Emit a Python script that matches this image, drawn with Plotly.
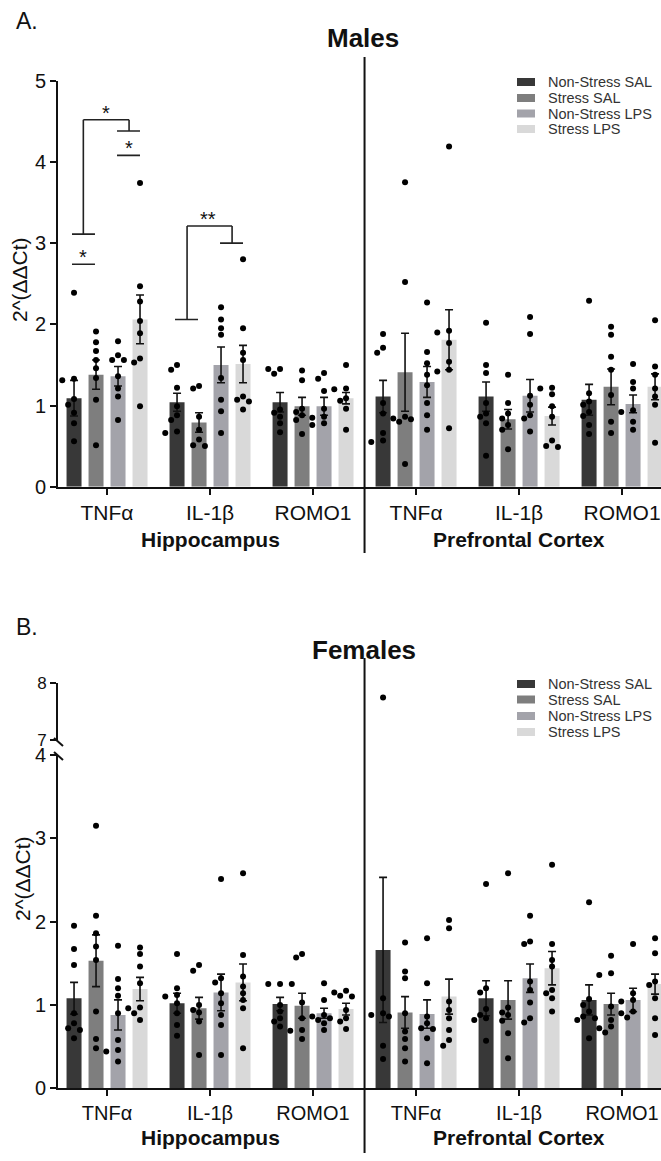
import plotly.graph_objects as go

W, H = 661, 1161

conditions = ["Non-Stress SAL", "Stress SAL", "Non-Stress LPS", "Stress LPS"]
colors = ["#383838", "#7e7e7e", "#a3a3aa", "#d9d9d9"]
genes = ["TNFα", "IL-1β", "ROMO1", "TNFα", "IL-1β", "ROMO1"]
regions = ["Hippocampus", "Prefrontal Cortex"]

# ---------------- Males: means and SEM (order: Hippo TNFa, IL1b, ROMO1, PFC TNFa, IL1b, ROMO1)
m_ns_sal_mean = [1.09, 1.04, 1.04, 1.11, 1.11, 1.07]
m_ns_sal_sem = [0.22, 0.11, 0.12, 0.20, 0.18, 0.19]
m_s_sal_mean = [1.38, 0.79, 0.99, 1.41, 0.83, 1.23]
m_s_sal_sem = [0.18, 0.12, 0.11, 0.48, 0.12, 0.22]
m_ns_lps_mean = [1.36, 1.50, 0.99, 1.29, 1.12, 1.02]
m_ns_lps_sem = [0.12, 0.22, 0.11, 0.19, 0.20, 0.11]
m_s_lps_mean = [2.06, 1.51, 1.09, 1.81, 0.87, 1.23]
m_s_lps_sem = [0.30, 0.23, 0.07, 0.37, 0.11, 0.16]

m_ns_sal_pts = [
    [2.39, 1.33, 1.31, 1.08, 1.01, 0.91, 0.78, 0.56],
    [1.50, 1.44, 1.22, 0.99, 0.88, 0.82, 0.68, 0.66],
    [1.45, 1.45, 1.39, 0.95, 0.91, 0.86, 0.78, 0.67],
    [1.88, 1.71, 1.65, 1.03, 0.90, 0.66, 0.57, 0.55],
    [2.02, 1.50, 1.40, 1.03, 0.90, 0.86, 0.78, 0.38],
    [2.29, 1.15, 1.05, 1.01, 0.92, 0.87, 0.76, 0.65],
]
m_s_sal_pts = [
    [1.91, 1.78, 1.67, 1.56, 1.46, 1.34, 1.07, 0.51],
    [1.24, 1.21, 0.86, 0.70, 0.58, 0.51, 0.50],
    [1.43, 1.31, 0.96, 0.92, 0.88, 0.82, 0.65],
    [3.75, 2.52, 0.86, 0.84, 0.83, 0.80, 0.28],
    [1.38, 1.03, 0.90, 0.84, 0.76, 0.70, 0.46],
    [1.97, 1.87, 1.60, 1.44, 1.13, 0.80, 0.66],
]
m_ns_lps_pts = [
    [1.79, 1.62, 1.56, 1.56, 1.36, 1.21, 1.11, 0.82],
    [2.21, 2.06, 1.95, 1.87, 1.34, 1.07, 0.93, 0.66],
    [1.40, 1.33, 1.18, 0.96, 0.86, 0.85, 0.78, 0.76],
    [2.27, 1.66, 1.52, 1.38, 1.25, 1.03, 0.88, 0.70],
    [2.09, 1.88, 1.12, 1.01, 0.88, 0.84, 0.68],
    [1.51, 1.29, 1.21, 0.94, 0.92, 0.80, 0.70],
]
m_s_lps_pts = [
    [3.74, 2.47, 2.28, 2.04, 1.89, 1.58, 1.53, 0.99],
    [2.80, 1.95, 1.65, 1.56, 1.11, 1.07, 1.05, 0.95],
    [1.50, 1.21, 1.20, 1.09, 1.06, 0.96, 0.70],
    [4.19, 1.92, 1.90, 1.77, 1.54, 1.44, 1.42, 0.72],
    [1.22, 1.21, 1.14, 0.99, 0.86, 0.57, 0.50, 0.49],
    [2.05, 1.48, 1.38, 1.21, 1.11, 1.01, 0.54],
]

# ---------------- Females
f_ns_sal_mean = [1.08, 1.02, 1.01, 1.66, 1.08, 1.06]
f_ns_sal_sem = [0.19, 0.12, 0.08, 0.87, 0.21, 0.18]
f_s_sal_mean = [1.53, 0.96, 0.99, 0.91, 1.06, 1.01]
f_s_sal_sem = [0.31, 0.13, 0.15, 0.19, 0.23, 0.13]
f_ns_lps_mean = [0.88, 1.15, 0.90, 0.89, 1.32, 1.06]
f_ns_lps_sem = [0.18, 0.22, 0.06, 0.17, 0.17, 0.14]
f_s_lps_mean = [1.19, 1.27, 0.95, 1.10, 1.44, 1.25]
f_s_lps_sem = [0.14, 0.22, 0.07, 0.21, 0.20, 0.12]

f_ns_sal_pts = [
    [1.95, 1.67, 1.48, 0.90, 0.78, 0.72, 0.70, 0.60],
    [1.61, 1.20, 1.12, 1.10, 1.02, 0.90, 0.76, 0.63],
    [1.25, 1.25, 1.25, 1.00, 0.92, 0.84, 0.80, 0.74],
    [7.75, 1.08, 0.90, 0.88, 0.86, 0.51, 0.35],
    [2.45, 1.20, 1.15, 0.95, 0.88, 0.84, 0.82, 0.57],
    [2.23, 1.07, 1.00, 0.92, 0.86, 0.84, 0.82, 0.60],
]
f_s_sal_pts = [
    [3.15, 2.07, 1.86, 1.70, 1.54, 0.92, 0.59, 0.48],
    [1.48, 1.41, 1.00, 0.94, 0.91, 0.80, 0.40],
    [1.61, 1.57, 1.03, 0.84, 0.70, 0.69, 0.59],
    [1.75, 1.40, 1.32, 0.90, 0.68, 0.59, 0.48, 0.32],
    [2.58, 0.97, 0.91, 0.88, 0.81, 0.66, 0.36],
    [1.59, 1.38, 1.36, 0.98, 0.82, 0.74, 0.72, 0.67],
]
f_ns_lps_pts = [
    [1.71, 1.31, 1.20, 1.11, 0.90, 0.58, 0.46, 0.44, 0.32],
    [2.51, 1.32, 1.27, 1.14, 1.02, 0.88, 0.76, 0.40],
    [1.26, 1.06, 0.88, 0.86, 0.84, 0.82, 0.78, 0.70],
    [1.80, 1.26, 0.86, 0.78, 0.72, 0.71, 0.60, 0.30],
    [2.07, 1.76, 1.73, 1.28, 1.18, 1.03, 0.84, 0.79],
    [1.73, 1.14, 1.06, 1.04, 0.92, 0.90, 0.85],
]
f_s_lps_pts = [
    [1.69, 1.61, 1.46, 1.26, 0.97, 0.96, 0.90, 0.82],
    [2.58, 1.60, 1.34, 1.22, 1.14, 1.06, 0.96, 0.48],
    [1.17, 1.15, 1.11, 1.10, 0.94, 0.84, 0.80, 0.71],
    [2.02, 1.92, 1.04, 0.94, 0.84, 0.70, 0.58, 0.51],
    [2.68, 1.73, 1.54, 1.46, 1.18, 1.14, 1.08, 0.92],
    [1.80, 1.62, 1.28, 1.24, 1.08, 0.84, 0.64],
]

# significance brackets (males, hippocampus)
sig_pairs_y = [2.74, 4.08]          # short pair lines (TNFa: SAL pair, LPS pair)
sig_tnf_levels = [3.11, 4.52, 4.38]  # TNFa stress-effect bracket
sig_il1_levels = [2.06, 3.21, 3.00]  # IL-1b bracket
sig_labels = ["*", "*", "*", "**"]

# ---------------- layout constants
FONT = "Liberation Sans, Arial, sans-serif"
slot = 0.2136
x_range = [-0.476, 5.378]
XPPU = 103.0


def px(x):
    return x / W


def py(y):
    return 1 - y / H


def swarm(vals, ppu, r=6.2):
    placed = []
    out = []
    for v in vals:
        y = v * ppu
        dx = 0.0
        for k in [0, -1, 1, -2, 2, -3, 3]:
            dx = k * r * 0.95
            if all((dx - a) ** 2 + (y - b) ** 2 >= r * r for a, b in placed):
                break
        placed.append((dx, y))
        out.append(dx / XPPU)
    return out


fig = go.Figure()

panels = [
    ("x", "y", None, 81.2,
     [m_ns_sal_mean, m_s_sal_mean, m_ns_lps_mean, m_s_lps_mean],
     [m_ns_sal_sem, m_s_sal_sem, m_ns_lps_sem, m_s_lps_sem],
     [m_ns_sal_pts, m_s_sal_pts, m_ns_lps_pts, m_s_lps_pts]),
    ("x2", "y2", "y3", 83.3,
     [f_ns_sal_mean, f_s_sal_mean, f_ns_lps_mean, f_s_lps_mean],
     [f_ns_sal_sem, f_s_sal_sem, f_ns_lps_sem, f_s_lps_sem],
     [f_ns_sal_pts, f_s_sal_pts, f_ns_lps_pts, f_s_lps_pts]),
]

for xa, ya, ya_up, ppu, means, sems, pts in panels:
    for j in range(4):
        fig.add_trace(go.Bar(
            x=list(range(6)), y=means[j], name=conditions[j],
            marker=dict(color=colors[j], line=dict(width=0)),
            offsetgroup=str(j), showlegend=False,
            error_y=dict(type="data", array=sems[j], color="#111111",
                         thickness=1.6, width=4),
            xaxis=xa, yaxis=ya,
        ))
    for j in range(4):
        xs, ys, xs_up, ys_up = [], [], [], []
        for g in range(6):
            vals = pts[j][g]
            offs = swarm(vals, ppu)
            for v, o in zip(vals, offs):
                xv = g + (j - 1.5) * slot + o
                if ya_up is not None and v > 4:
                    xs_up.append(xv)
                    ys_up.append(v)
                else:
                    xs.append(xv)
                    ys.append(v)
        fig.add_trace(go.Scatter(
            x=xs, y=ys, mode="markers", showlegend=False,
            marker=dict(color="#000000", size=6),
            xaxis=xa, yaxis=ya, hoverinfo="y",
        ))
        if ya_up is not None and xs_up:
            fig.add_trace(go.Scatter(
                x=xs_up, y=ys_up, mode="markers", showlegend=False,
                marker=dict(color="#000000", size=6),
                xaxis=xa, yaxis=ya_up, hoverinfo="y",
            ))

ax_common = dict(showline=True, linewidth=2, linecolor="#111111", showgrid=False,
                 zeroline=False, ticks="outside", ticklen=6, tickwidth=2,
                 tickcolor="#111111", automargin=False)
xdom = [px(58), 1.0]

fig.update_layout(
    template="none",
    width=W, height=H, margin=dict(l=0, r=0, t=0, b=0, pad=0, autoexpand=False),
    paper_bgcolor="white", plot_bgcolor="white", showlegend=False,
    barmode="group", bargap=0.146, bargroupgap=0.318,
    font=dict(family=FONT, color="#111111"),
    xaxis=dict(domain=xdom, range=x_range, anchor="y", tickvals=list(range(6)),
               ticktext=genes, tickfont=dict(size=21, family=FONT), **ax_common),
    yaxis=dict(domain=[py(486.7), py(80.7)], range=[0, 5], anchor="x",
               tickvals=[0, 1, 2, 3, 4, 5], tickfont=dict(size=20, family=FONT), **ax_common),
    xaxis2=dict(domain=xdom, range=x_range, anchor="y2", tickvals=list(range(6)),
                ticktext=genes, tickfont=dict(size=20, family=FONT), **ax_common),
    yaxis2=dict(domain=[py(1088.3), py(754.8)], range=[0, 4], anchor="x2",
                tickvals=[0, 1, 2, 3, 4], tickfont=dict(size=20, family=FONT), **ax_common),
    yaxis3=dict(domain=[py(740.0), py(683.3)], range=[7, 8], anchor="x2",
                tickvals=[7, 8], tickfont=dict(size=17, family=FONT), **ax_common),
)

shapes = []
annotations = []

# separators between regions
shapes.append(dict(type="line", xref="x", yref="paper", x0=2.5, x1=2.5,
                   y0=py(553), y1=py(57), line=dict(color="#111111", width=2)))
shapes.append(dict(type="line", xref="x2", yref="paper", x0=2.5, x1=2.5,
                   y0=py(1153), y1=py(658), line=dict(color="#111111", width=2)))

# axis break slashes
for yy in (738, 752):
    shapes.append(dict(type="line", xref="paper", yref="paper",
                       x0=px(54), x1=px(63), y0=py(yy), y1=py(yy + 8),
                       line=dict(color="#111111", width=2)))

# significance brackets
ln = dict(color="#222222", width=1.6)


def seg(x0, y0, x1, y1):
    shapes.append(dict(type="line", xref="x", yref="y", x0=x0, y0=y0, x1=x1, y1=y1, line=ln))


def star(x, y, t):
    annotations.append(dict(x=x, y=y, xref="x", yref="y", text=t, showarrow=False,
                            xanchor="center", yanchor="bottom", yshift=-6,
                            font=dict(size=20, family=FONT)))


L0, L1, R0, R1 = -0.34, -0.117, 0.097, 0.32
g = 0
seg(g + L0, sig_pairs_y[0], g + L1, sig_pairs_y[0])
star(g - 0.23, sig_pairs_y[0], sig_labels[0])
seg(g + L0, sig_tnf_levels[0], g + L1, sig_tnf_levels[0])
seg(g - 0.23, sig_tnf_levels[0], g - 0.23, sig_tnf_levels[1])
seg(g - 0.23, sig_tnf_levels[1], g + 0.214, sig_tnf_levels[1])
seg(g + 0.214, sig_tnf_levels[1], g + 0.214, sig_tnf_levels[2])
seg(g + R0, sig_tnf_levels[2], g + R1, sig_tnf_levels[2])
star(g - 0.01, sig_tnf_levels[1], sig_labels[1])
seg(g + R0, sig_pairs_y[1], g + R1, sig_pairs_y[1])
star(g + 0.21, sig_pairs_y[1], sig_labels[2])
g = 1
seg(g + L0, sig_il1_levels[0], g + L1, sig_il1_levels[0])
seg(g - 0.223, sig_il1_levels[0], g - 0.223, sig_il1_levels[1])
seg(g - 0.223, sig_il1_levels[1], g + 0.214, sig_il1_levels[1])
seg(g + 0.214, sig_il1_levels[1], g + 0.214, sig_il1_levels[2])
seg(g + R0, sig_il1_levels[2], g + R1, sig_il1_levels[2])
star(g - 0.02, sig_il1_levels[1], sig_labels[3])

# legends (drawn)
for rows in ([82, 98, 113.5, 129], [684, 699.5, 716, 732]):
    for j, ry in enumerate(rows):
        shapes.append(dict(type="rect", xref="paper", yref="paper",
                           x0=px(517), x1=px(535), y0=py(ry + 4), y1=py(ry - 4),
                           fillcolor=colors[j], line=dict(width=0)))
        annotations.append(dict(x=px(546), y=py(ry), xref="paper", yref="paper",
                                text=conditions[j], showarrow=False, xanchor="left",
                                yanchor="middle", font=dict(size=14.5, family=FONT, color="#333333")))

# titles, panel letters, y titles
extra = [
    dict(x=px(363), y=py(38), text="<b>Males</b>", font=dict(size=26, family=FONT)),
    dict(x=px(364), y=py(650), text="<b>Females</b>", font=dict(size=26, family=FONT)),
    dict(x=px(27), y=py(21), text="A.", font=dict(size=23, family=FONT)),
    dict(x=px(27), y=py(627), text="B.", font=dict(size=23, family=FONT)),
    dict(x=px(20), y=py(280), text="2^(ΔΔCt)", textangle=-90, font=dict(size=21, family=FONT)),
    dict(x=px(22), y=py(879), text="2^(ΔΔCt)", textangle=-90, font=dict(size=21, family=FONT)),
]
for a in extra:
    a.update(xref="paper", yref="paper", showarrow=False, xanchor="center", yanchor="middle")
annotations += extra

for k, name in enumerate(regions):
    annotations.append(dict(x=1 + 3 * k, y=py(539), xref="x", yref="paper",
                            text="<b>" + name + "</b>", showarrow=False,
                            xanchor="center", yanchor="middle",
                            font=dict(size=21, family=FONT)))
    annotations.append(dict(x=1 + 3 * k, y=py(1137), xref="x2", yref="paper",
                            text="<b>" + name + "</b>", showarrow=False,
                            xanchor="center", yanchor="middle",
                            font=dict(size=21, family=FONT)))

fig.update_layout(shapes=shapes, annotations=annotations)
fig.write_html("out.html", config={"displayModeBar": False},
               post_script="document.body.style.margin='0';document.body.style.padding='0';")
